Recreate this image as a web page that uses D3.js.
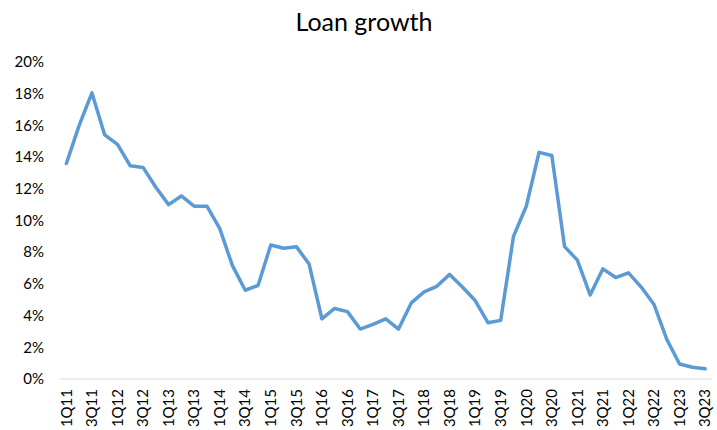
<!DOCTYPE html>
<html lang="en">

<head>
  <meta charset="UTF-8">
  <title>Loan growth</title>
  <script src="https://d3js.org/d3.v7.min.js"></script>
  <style>
    body { margin: 0; background: #fff; }
    text { font-family: Lato, "Open Sans", sans-serif; fill: #000; }
  </style>
</head>

<body>
  <div class="canvas"></div>
  <script>
    const width = 717;
    const height = 430;

    // quarters 1Q11 .. 3Q23
    const quarters = [];
    for (let yr = 11; yr <= 23; yr++) {
      for (let q = 1; q <= 4; q++) {
        if (yr === 23 && q > 3) break;
        quarters.push(`${q}Q${yr}`);
      }
    }

    // loan growth, %
    const growth = [
      13.6, 16.0, 18.05, 15.4, 14.8, 13.45, 13.35, 12.1,
      11.0, 11.55, 10.9, 10.9, 9.5, 7.15, 5.6, 5.9,
      8.45, 8.25, 8.35, 7.25, 3.8, 4.45, 4.25, 3.15,
      3.45, 3.8, 3.15, 4.8, 5.5, 5.85, 6.6, 5.8,
      4.95, 3.55, 3.7, 9.0, 10.9, 14.3, 14.1, 8.35,
      7.5, 5.3, 6.95, 6.4, 6.7, 5.8, 4.7, 2.5,
      0.95, 0.74, 0.65
    ];

    const yTicks = [0, 2, 4, 6, 8, 10, 12, 14, 16, 18, 20];
    const xLabels = quarters.filter(q => q[0] === '1' || q[0] === '3');

    const data = quarters.map((q, i) => ({ q: q, v: growth[i] }));

    const svg = d3.select('.canvas')
      .append('svg')
      .attr('width', width)
      .attr('height', height)

    const x = d3.scalePoint()
      .domain(quarters)
      .range([60, 711.5])
      .padding(0.5)

    const y = d3.scaleLinear()
      .domain([0, 20])
      .range([379, 62])

    // title
    svg.append('text')
      .attr('x', 364)
      .attr('y', 31)
      .attr('text-anchor', 'middle')
      .style('font-size', '25px')
      .text('Loan growth')

    // y axis labels
    svg.append('g')
      .selectAll('text')
      .data(yTicks)
      .enter()
      .append('text')
      .attr('x', 44)
      .attr('y', d => y(d))
      .attr('dy', '0.35em')
      .attr('text-anchor', 'end')
      .style('font-size', '15px')
      .text(d => d + '%')

    // baseline
    svg.append('line')
      .attr('x1', 60)
      .attr('x2', 711.5)
      .attr('y1', y(0))
      .attr('y2', y(0))
      .attr('stroke', '#d9d9d9')
      .attr('stroke-width', 1)

    // x labels, rotated
    svg.append('g')
      .selectAll('text')
      .data(xLabels)
      .enter()
      .append('text')
      .attr('transform', d => `translate(${x(d)}, 389) rotate(-90)`)
      .attr('dy', '0.35em')
      .attr('text-anchor', 'end')
      .style('font-size', '15px')
      .text(d => d)

    const line = d3.line()
      .x(d => x(d.q))
      .y(d => y(d.v))

    svg.append('path')
      .datum(data)
      .attr('d', line)
      .attr('fill', 'none')
      .attr('stroke', '#5b9bd5')
      .attr('stroke-width', 3.5)
      .attr('stroke-linejoin', 'round')
      .attr('stroke-linecap', 'round')
  </script>

</body>

</html>
